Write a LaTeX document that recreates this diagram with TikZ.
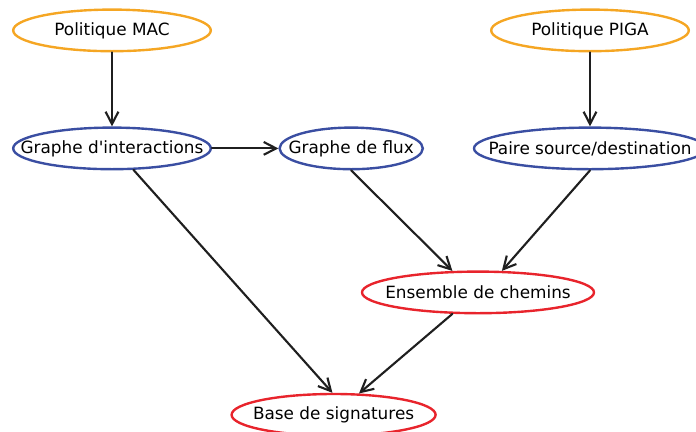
\documentclass[tikz,border=0pt]{standalone}
\usepackage{fontspec}
\setmainfont{DejaVu Sans}[Ligatures=TeXOff]
\usepackage{tikz}
\usetikzlibrary{arrows.meta,shapes.geometric}
\usepackage{xcolor}
\definecolor{polorange}{RGB}{245,166,35}
\definecolor{grblue}{RGB}{58,78,162}
\definecolor{chred}{RGB}{232,36,44}

\begin{document}
\begin{tikzpicture}[>={Straight Barb[length=3.1mm,width=3.2mm]},font=\fontsize{12}{14}\selectfont,line cap=round,
  etat/.style={ellipse,draw,line width=1.7pt,inner xsep=-16pt,inner ysep=0pt,minimum height=1.04cm},
  pol/.style={etat,draw=polorange},
  gr/.style={etat,draw=grblue},
  res/.style={etat,draw=chred},
  fl/.style={->,line width=1.5pt,black!88}]
\useasboundingbox (0,0) rectangle (17.4,-10.8);
\node[pol,minimum width=4.94cm] (mac) at (2.8,-0.76) {Politique MAC};
\node[pol,minimum width=4.94cm] (piga) at (14.75,-0.76) {Politique PIGA};
\node[gr,minimum width=4.94cm] (inter) at (2.8,-3.71) {Graphe d'interactions};
\node[gr,minimum width=3.58cm] (flux) at (8.78,-3.71) {Graphe de flux};
\node[gr,minimum width=5.8cm] (paire) at (14.75,-3.71) {Paire source/destination};
\node[res,minimum width=5.8cm] (chemins) at (11.95,-7.31) {Ensemble de chemins};
\node[res,minimum width=5.1cm] (base) at (8.34,-10.37) {Base de signatures};
\draw[fl] (mac) -- (inter);
\draw[fl] (piga) -- (paire);
\draw[fl] (inter) -- (flux);
\draw[fl] (flux.south) -- (chemins.140);
\draw[fl] (paire.south) -- (chemins.42);
\draw[fl] (inter.-45) -- (base.93);
\draw[fl] (chemins.-140) -- (base.40);
\end{tikzpicture}
\end{document}
